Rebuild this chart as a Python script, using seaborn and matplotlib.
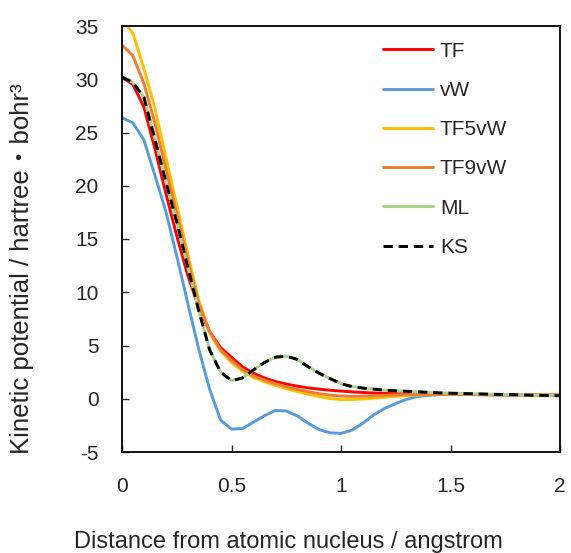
import numpy as np
import pandas as pd
import matplotlib
matplotlib.use("Agg")
import matplotlib.pyplot as plt
import seaborn as sns

# distance from nucleus (angstrom)
distance = [0.00, 0.05, 0.10, 0.15, 0.20, 0.25, 0.30, 0.35, 0.40, 0.45,
            0.50, 0.55, 0.60, 0.65, 0.70, 0.75, 0.80, 0.85, 0.90, 0.95,
            1.00, 1.05, 1.10, 1.15, 1.20, 1.25, 1.30, 1.35, 1.40, 1.45,
            1.50, 1.60, 1.70, 1.80, 1.90, 2.00]

tf = [30.2, 29.5, 27.4, 23.5, 19.3, 15.3, 11.6, 8.6, 6.3, 4.8,
      3.9, 3.0, 2.4, 1.95, 1.62, 1.38, 1.18, 1.02, 0.9, 0.8,
      0.72, 0.65, 0.59, 0.54, 0.5, 0.48, 0.46, 0.44, 0.43, 0.42,
      0.41, 0.39, 0.37, 0.35, 0.34, 0.33]

vw = [26.4, 25.9, 24.3, 21.0, 17.6, 13.4, 9.0, 4.7, 0.9, -2.0,
      -2.85, -2.8, -2.2, -1.6, -1.1, -1.15, -1.6, -2.3, -2.9, -3.2,
      -3.25, -2.95, -2.3, -1.5, -0.9, -0.45, -0.05, 0.2, 0.32, 0.38,
      0.41, 0.4, 0.38, 0.36, 0.35, 0.34]

tf5vw = [35.6, 34.3, 31.0, 27.3, 22.7, 18.2, 13.6, 9.3, 6.2, 4.5,
         3.4, 2.6, 2.0, 1.6, 1.25, 0.95, 0.68, 0.42, 0.2, 0.02,
         -0.08, -0.08, -0.02, 0.05, 0.15, 0.23, 0.3, 0.35, 0.38, 0.4,
         0.41, 0.4, 0.38, 0.36, 0.35, 0.34]

tf9vw = [33.2, 32.2, 29.6, 25.9, 21.6, 17.4, 13.0, 8.9, 6.3, 4.6,
         3.6, 2.75, 2.15, 1.75, 1.42, 1.12, 0.88, 0.66, 0.48, 0.34,
         0.25, 0.22, 0.24, 0.28, 0.32, 0.36, 0.38, 0.4, 0.41, 0.41,
         0.41, 0.4, 0.38, 0.36, 0.35, 0.34]

ml = [30.2, 29.7, 28.3, 24.4, 20.4, 16.6, 12.4, 8.3, 4.6, 2.5,
      1.72, 1.95, 2.7, 3.4, 3.9, 4.0, 3.7, 3.0, 2.4, 1.9,
      1.42, 1.15, 1.0, 0.9, 0.8, 0.75, 0.7, 0.65, 0.6, 0.55,
      0.52, 0.47, 0.42, 0.37, 0.32, 0.28]

ks = [30.2, 29.7, 28.3, 24.4, 20.4, 16.6, 12.4, 8.3, 4.6, 2.5,
      1.7, 1.95, 2.7, 3.4, 3.9, 4.0, 3.7, 3.0, 2.4, 1.9,
      1.4, 1.15, 1.0, 0.9, 0.8, 0.75, 0.7, 0.65, 0.6, 0.55,
      0.52, 0.47, 0.42, 0.37, 0.32, 0.28]

names = ["TF", "vW", "TF5vW", "TF9vW", "ML", "KS"]
colors = {"TF": "#FF0000", "vW": "#5B9BD5", "TF5vW": "#FFC000",
          "TF9vW": "#ED7D31", "ML": "#A9D18E", "KS": "#000000"}

frames = []
for name, vals in zip(names, [tf, vw, tf5vw, tf9vw, ml, ks]):
    frames.append(pd.DataFrame({"x": distance, "y": vals, "series": name}))
df = pd.concat(frames, ignore_index=True)

sns.set_style("ticks")
plt.rcParams['font.family'] = ['Liberation Sans', 'Noto Sans CJK JP', 'DejaVu Sans']
plt.rcParams['axes.unicode_minus'] = False

fig = plt.figure(figsize=(5.71, 5.53), dpi=100)
ax = fig.add_axes([122 / 571, 1 - 452 / 553, 438 / 571, 426 / 553])

dashes = {n: "" for n in names}
dashes["KS"] = (3.2, 2.0)
sns.lineplot(data=df, x="x", y="y", hue="series", style="series",
             hue_order=names, style_order=names, palette=colors,
             dashes=dashes, linewidth=2.1, ax=ax)

ax.set_xlim(0, 2)
ax.set_ylim(-5, 35)
ax.set_xticks([0, 0.5, 1, 1.5, 2])
ax.set_xticklabels(["0", "0.5", "1", "1.5", "2"])
ax.set_yticks(range(-5, 36, 5))
ax.tick_params(axis="x", direction="in", length=5, width=1, pad=18, labelsize=15, top=False)
ax.tick_params(axis="y", direction="in", length=5, width=1, pad=17, labelsize=15, right=False)
for s in ax.spines.values():
    s.set_linewidth(1.3)
    s.set_color("black")

ax.set_xlabel("Distance from atomic nucleus / angstrom", fontsize=17)
ax.set_ylabel("Kinetic potential / hartree・bohr³", fontsize=18.5)
ax.xaxis.set_label_coords(0.38, -0.185)
ax.yaxis.set_label_coords(-0.2, 0.43)

handles, labels = ax.get_legend_handles_labels()
ax.legend(handles, labels, loc="upper left", bbox_to_anchor=(0.595, 0.963),
          frameon=False, fontsize=15, handlelength=2.4, handletextpad=0.35,
          labelspacing=0.97, borderpad=0, borderaxespad=0)

fig.savefig("out.png", dpi=100)
